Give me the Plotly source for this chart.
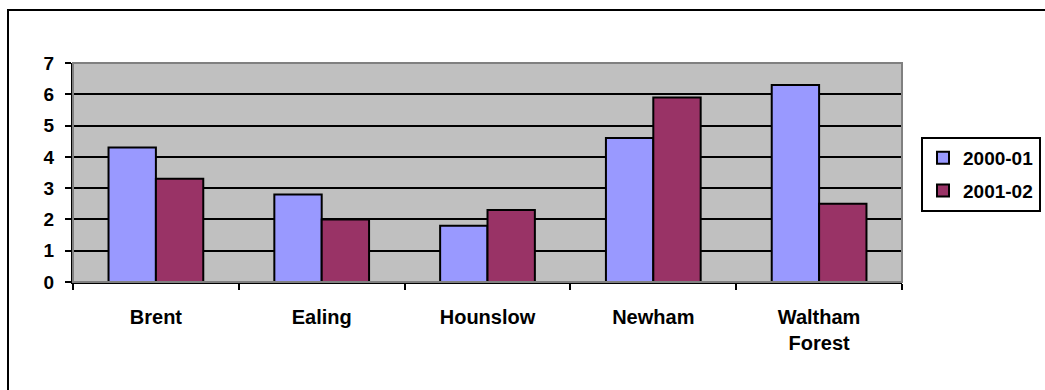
import plotly.graph_objects as go

boroughs = ["Brent", "Ealing", "Hounslow", "Newham", "Waltham<br>Forest"]
values_2000_01 = [4.3, 2.8, 1.8, 4.6, 6.3]
values_2001_02 = [3.3, 2.0, 2.3, 5.9, 2.5]
series_names = ["2000-01", "2001-02"]
y_ticks = [0, 1, 2, 3, 4, 5, 6, 7]

W, H = 1045, 390
L, T, R, B = 73, 63, 143, 108
FONT = "Arial, Liberation Sans, sans-serif"

fig = go.Figure()
fig.add_trace(go.Bar(
    x=boroughs, y=values_2000_01, name=series_names[0], legendgroup="a",
    marker=dict(color="#9999FF", line=dict(color="#000000", width=2)),
))
fig.add_trace(go.Bar(
    x=boroughs, y=values_2001_02, name=series_names[1], legendgroup="b",
    marker=dict(color="#993366", line=dict(color="#000000", width=2)),
))

pw = W - L - R
ph = H - T - B

# outer chart frame (left and top edges visible)
fig.add_shape(type="rect", xref="paper", yref="paper",
              x0=(8 - L) / pw, x1=(W + 20 - L) / pw,
              y0=-(H + 20 - T - ph) / ph, y1=(T - 10 + ph) / ph,
              line=dict(color="#000000", width=2), fillcolor="rgba(0,0,0,0)",
              layer="below")
# plot area border
fig.add_shape(type="rect", xref="paper", yref="paper", x0=0, x1=1, y0=0, y1=1,
              line=dict(color="#808080", width=2), fillcolor="rgba(0,0,0,0)",
              layer="above")

fig.update_layout(
    width=W, height=H,
    margin=dict(l=L, r=R, t=T, b=B, autoexpand=False),
    paper_bgcolor="#FFFFFF",
    plot_bgcolor="#C0C0C0",
    barmode="group",
    bargap=1.5 / 3.5,
    bargroupgap=0,
    font=dict(family=FONT, size=19, color="#000000", weight="bold"),
    showlegend=True,
    legend=dict(
        x=(921 - L) / pw, xanchor="left",
        y=(H - B - 137) / ph, yanchor="top",
        bordercolor="#000000", borderwidth=2, bgcolor="#FFFFFF",
        font=dict(family=FONT, size=19, color="#000000", weight="bold"),
        tracegroupgap=5, itemwidth=30,
    ),
    xaxis=dict(
        showline=True, linecolor="#000000", linewidth=2,
        ticks="outside", tickson="boundaries", ticklen=6, tickwidth=2,
        tickcolor="#000000", ticklabelstandoff=16,
        tickfont=dict(family=FONT, size=20, color="#000000", weight="bold"),
        showgrid=False,
    ),
    yaxis=dict(
        range=[0, 7], tickvals=y_ticks,
        showline=True, linecolor="#000000", linewidth=2,
        ticks="outside", ticklen=6, tickwidth=2, tickcolor="#000000",
        ticklabelstandoff=7,
        showgrid=True, gridcolor="#000000", gridwidth=2,
        zeroline=False,
        tickfont=dict(family=FONT, size=19, color="#000000", weight="bold"),
    ),
)

fig.write_html("out.html")
